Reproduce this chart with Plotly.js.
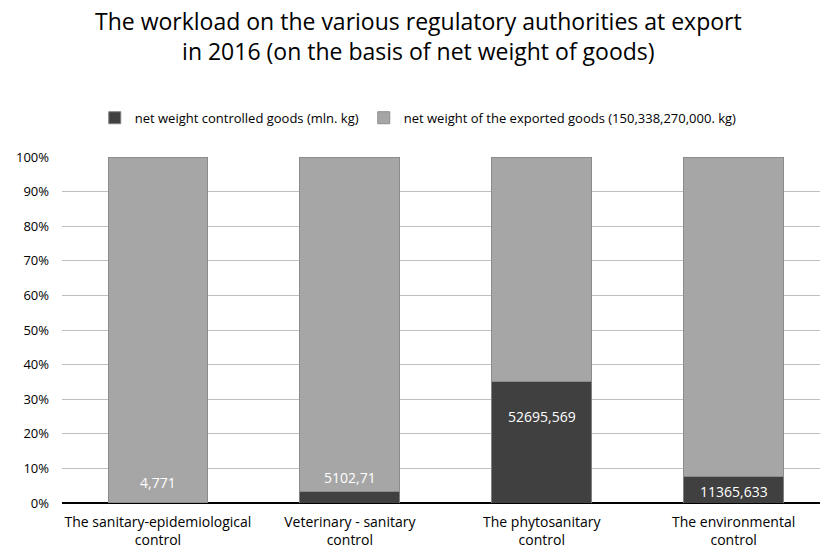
<!DOCTYPE html>
<html>
<head>
<meta charset="utf-8">
<script src="https://cdn.plot.ly/plotly-3.0.1.min.js"></script>
<style>html,body{margin:0;padding:0;background:#fff;}#chart{width:820px;height:551px;}</style>
</head>
<body>
<div id="chart"></div>
<script>
// Data
const categories = [
  "The sanitary-epidemiological<br>control",
  "Veterinary - sanitary<br>control",
  "The phytosanitary<br>control",
  "The environmental<br>control"
];
const controlledLabels = ["4,771", "5102,71", "52695,569", "11365,633"];
const controlledGoods = [4.771, 5102.71, 52695.569, 11365.633];          // mln. kg
const remainingExported = [150333.499, 145235.56, 97642.701, 138972.637]; // mln. kg (rest of 150,338.27)
const seriesNames = [
  "net weight controlled goods (mln. kg)",
  "net weight of the exported goods (150,338,270,000. kg)"
];
// label vertical placement (percent axis), layout only
const labelY = [5.8, 7.5, 24.9, 3.2];

const font = "Open Sans, Noto Sans, sans-serif";

const traces = [
  {
    type: "bar", x: categories, y: controlledGoods, name: seriesNames[0],
    marker: {color: "#404040", line: {color: "#7f7f7f", width: 1}},
    width: 0.52, hoverinfo: "skip"
  },
  {
    type: "bar", x: categories, y: remainingExported, name: seriesNames[1],
    marker: {color: "#a6a6a6", line: {color: "#8c8c8c", width: 1}},
    width: 0.52, hoverinfo: "skip"
  }
];

const annotations = categories.map((c, i) => ({
  x: c, y: labelY[i], xref: "x", yref: "y", text: controlledLabels[i],
  showarrow: false, font: {family: font, size: 14, color: "#ffffff"}
}));

annotations.push({
  xref: "paper", yref: "paper", x: 0.47, y: 1.445, xanchor: "center", yanchor: "top",
  showarrow: false, align: "center",
  text: "The workload on the various regulatory authorities at export<br>in 2016 (on the basis of net weight of goods)",
  font: {family: font, size: 23, color: "#000000"}
});

const layout = {
  width: 820, height: 551,
  margin: {l: 62, r: 0, t: 157, b: 48},
  paper_bgcolor: "#ffffff", plot_bgcolor: "#ffffff",
  barmode: "stack", barnorm: "percent",
  showlegend: true,
  legend: {
    orientation: "h", x: 0.47, xanchor: "center", y: 1.07, yanchor: "bottom",
    font: {family: font, size: 13, color: "#000000"},
    traceorder: "normal", itemwidth: 30
  },
  xaxis: {
    range: [-0.5, 3.45], showgrid: false, ticks: "", showline: false,
    tickfont: {family: font, size: 14, color: "#000000"}, ticklabelstandoff: 9, fixedrange: true
  },
  yaxis: {
    range: [0, 100], dtick: 10, ticksuffix: "%", showgrid: true,
    gridcolor: "#bfbfbf", gridwidth: 1, zeroline: true, zerolinecolor: "#000000", zerolinewidth: 1.5,
    tickfont: {family: font, size: 13, color: "#000000"}, ticklen: 0, ticklabelstandoff: 12,
    fixedrange: true
  },
  annotations: annotations
};

Plotly.newPlot("chart", traces, layout, {displayModeBar: false, staticPlot: true});
</script>
</body>
</html>
